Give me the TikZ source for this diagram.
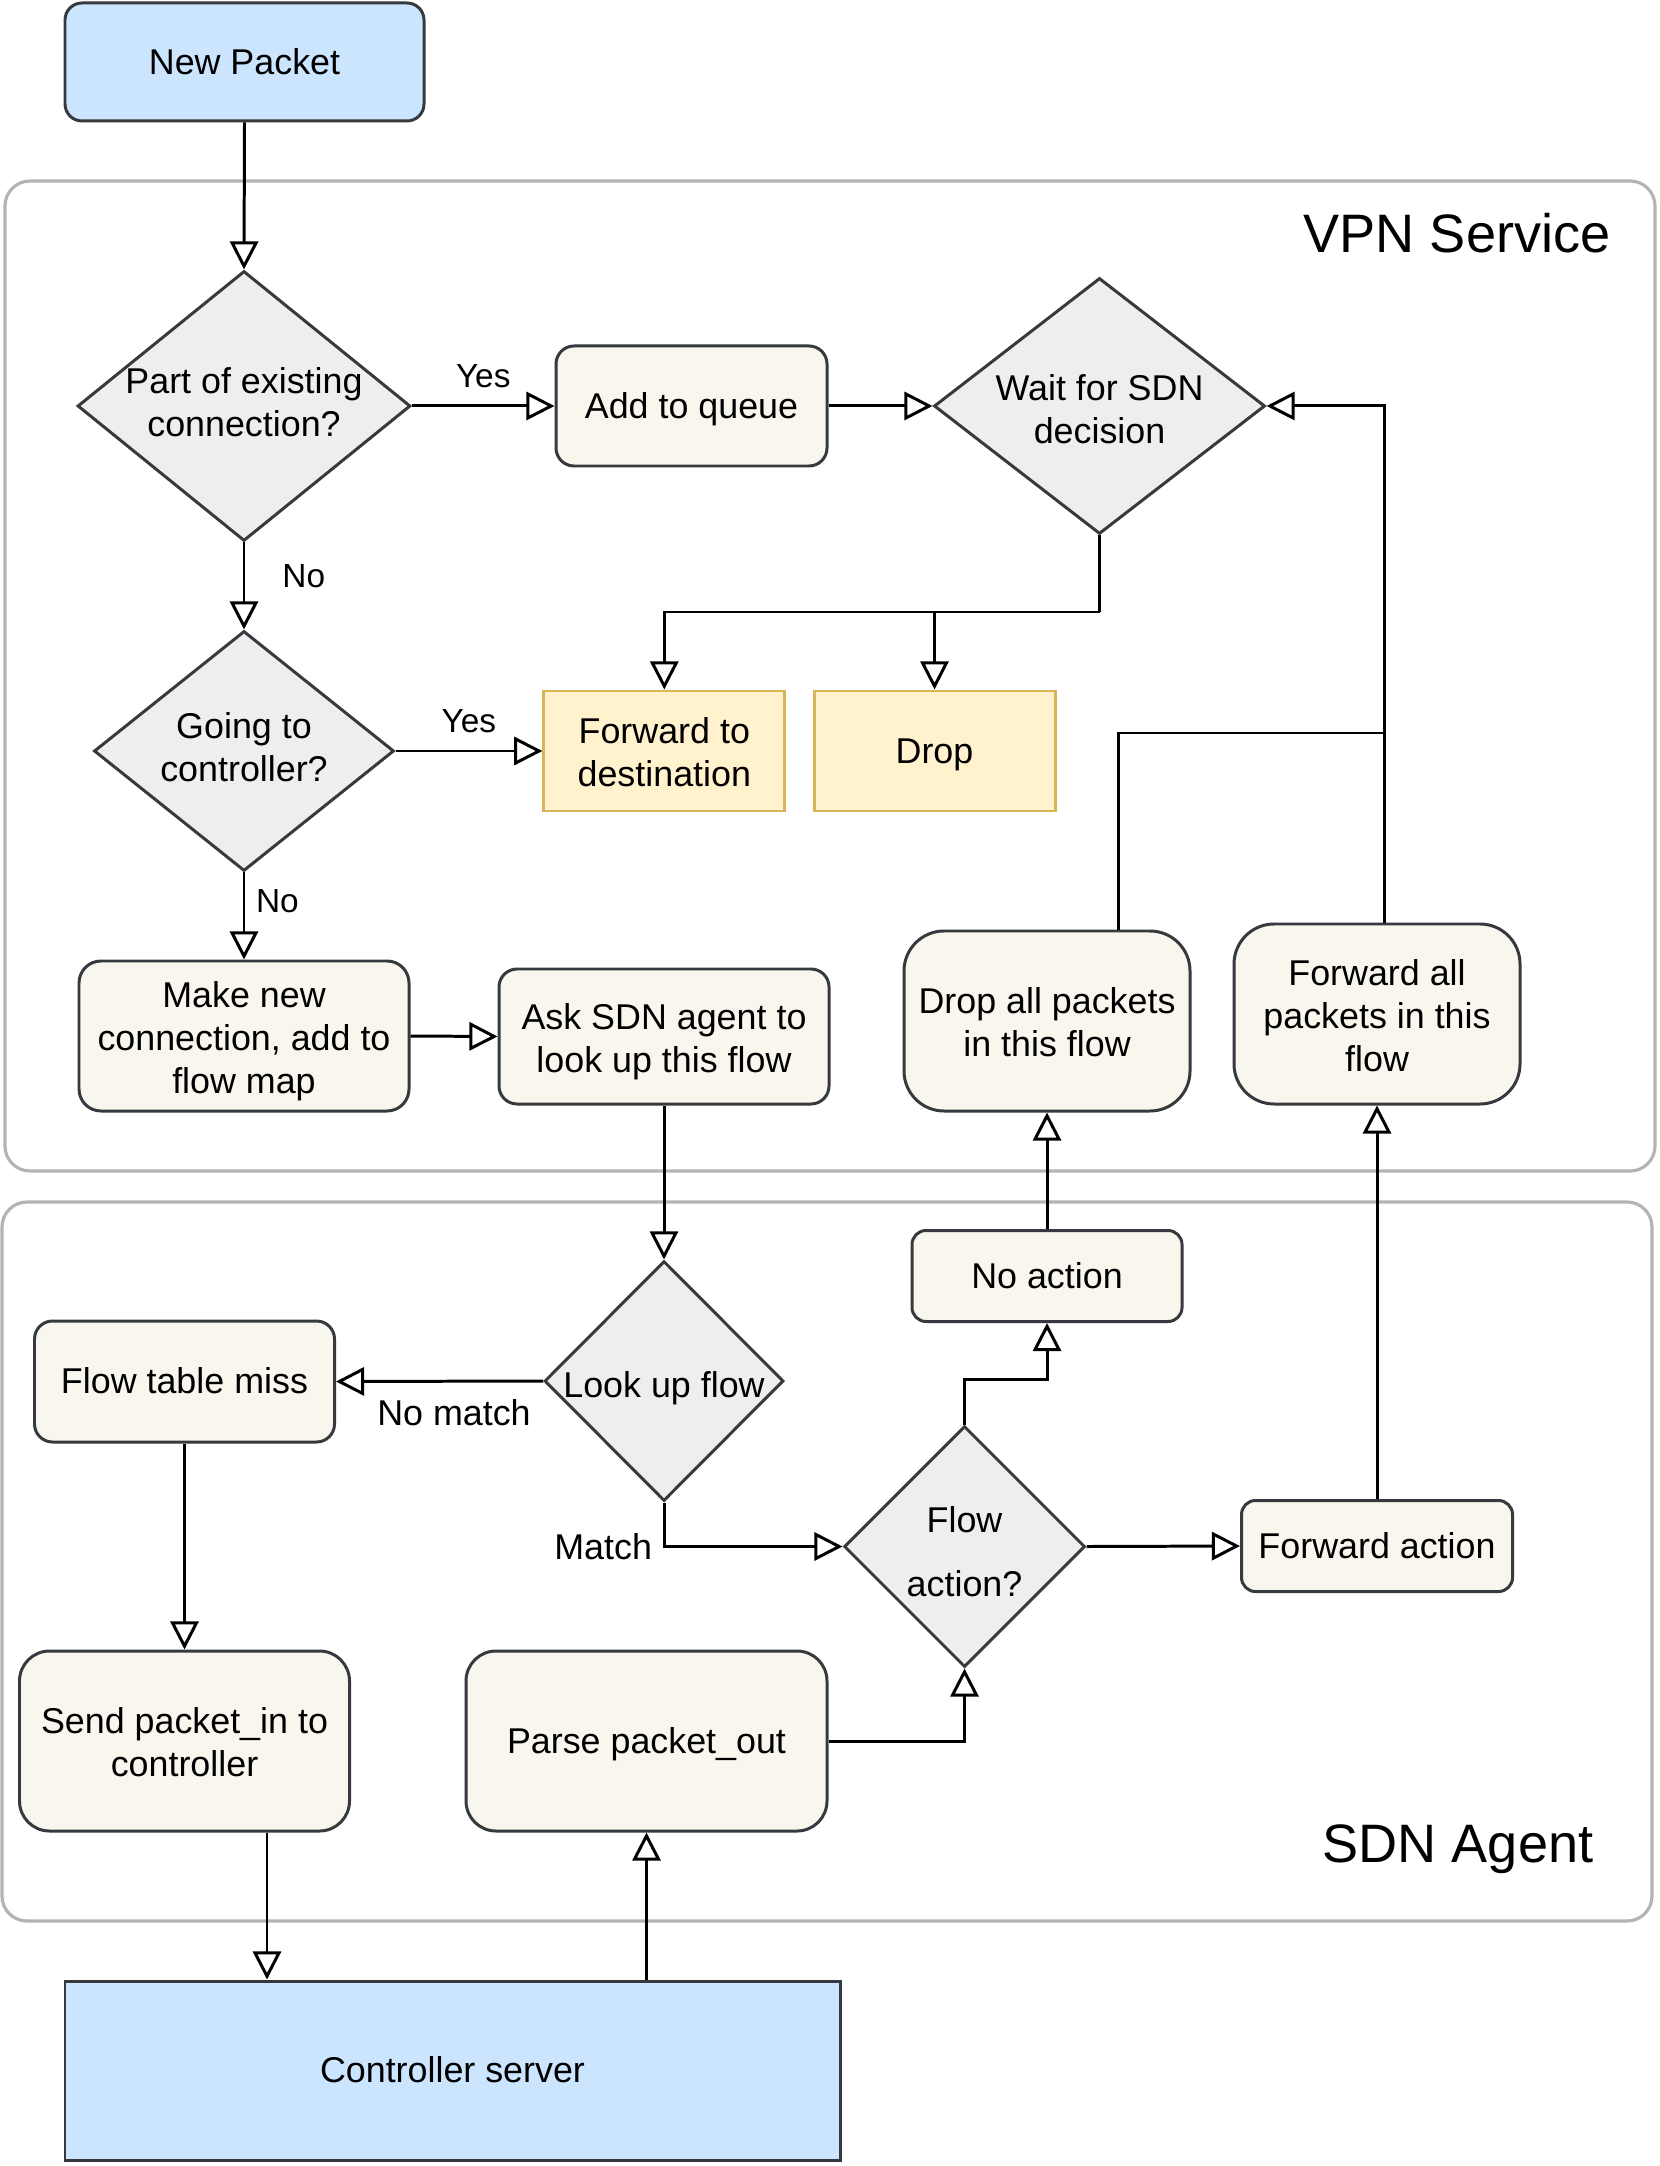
\documentclass[tikz,border=0pt]{standalone}
\usepackage{fontspec}
\setmainfont{Liberation Sans}
\usetikzlibrary{arrows.meta,shapes.geometric,calc}
\definecolor{boxfill}{HTML}{F9F7ED}
\definecolor{boxline}{HTML}{36393D}
\definecolor{decfill}{HTML}{EEEEEE}
\definecolor{bluefill}{HTML}{CCE5FF}
\definecolor{yelfill}{HTML}{FFF2CC}
\definecolor{yelline}{HTML}{D6B656}
\definecolor{grpline}{HTML}{B3B3B3}

\begin{document}
\begin{tikzpicture}[
    >={Triangle[open,length=8pt,width=8pt]},
    txt/.style={font=\fontsize{10.2}{12.2}\selectfont, align=center},
    linebox/.style={execute at begin node={\rule[-2.6pt]{0pt}{#1}},
                    execute at end node={\rule[-2.6pt]{0pt}{12.25pt}}},
    linebox/.default=12.25pt,
    twoline/.style={linebox=25.4pt},
    threeline/.style={linebox=38pt},
    sink/.style={execute at begin node={\rule{0pt}{#1}}},
    lift/.style={execute at end node={\rule[-#1]{0pt}{0pt}}},
    edgelbl/.style={font=\fontsize{9.5}{11.4}\selectfont, inner sep=3pt},
    matchlbl/.style={font=\fontsize{10.2}{12.2}\selectfont, inner sep=3pt},
    proc/.style={txt, draw=boxline, fill=boxfill, line width=0.85pt, rounded corners=0.18cm, inner sep=0pt},
    decision/.style={txt, shape=diamond, draw=boxline, fill=decfill, line width=0.85pt, inner sep=0pt},
    endbox/.style={txt, draw=yelline, fill=yelfill, line width=0.85pt},
    term/.style={txt, linebox, draw=boxline, fill=bluefill, line width=0.85pt},
    group/.style={draw=grpline, line width=0.9pt, rounded corners=0.25cm},
    grptitle/.style={font=\fontsize{15.4}{18}\selectfont},
    conn/.style={->, line width=0.85pt}
  ]
  \useasboundingbox (0,0) rectangle (16.59,-21.66);

  % containers
  \draw[group] (0.05,-1.81) rectangle (16.55,-11.71);
  \draw[group] (0.02,-12.02) rectangle (16.52,-19.21);
  \node[grptitle] (vpntitle) at (14.57,-2.33) {VPN Service};
  \node[grptitle] (sdntitle) at (14.58,-18.49) {SDN Agent};

  % VPN service
  \node[term, rounded corners=0.17cm, minimum width=3.59cm, minimum height=1.18cm] (newpkt) at (2.445,-0.62) {New Packet};
  \node[decision, lift=2.4pt, aspect=1.24, minimum width=3.30cm, minimum height=2.70cm] (part) at (2.44,-4.06) {Part of existing\\connection?};
  \node[proc, linebox, minimum width=2.71cm, minimum height=1.20cm] (queue) at (6.915,-4.06) {Add to queue};
  \node[decision, sink=21.2pt, aspect=1.29, minimum width=3.31cm, minimum height=2.56cm] (wait) at (10.995,-4.06) {Wait for SDN\\decision};
  \node[decision, lift=2.3pt, aspect=1.25, minimum width=3.00cm, minimum height=2.40cm] (going) at (2.44,-7.51) {Going to\\controller?};
  \node[endbox, twoline, minimum width=2.41cm, minimum height=1.20cm] (fwddest) at (6.643,-7.51) {Forward to\\destination};
  \node[endbox, linebox, minimum width=2.41cm, minimum height=1.20cm] (drop) at (9.345,-7.51) {Drop};
  \node[proc, threeline, rounded corners=0.22cm, minimum width=3.30cm, minimum height=1.50cm] (mknew) at (2.44,-10.36) {Make new\\connection, add to\\flow map};
  \node[proc, twoline, minimum width=3.30cm, minimum height=1.35cm] (ask) at (6.64,-10.365) {Ask SDN agent to\\look up this flow};
  \node[proc, twoline, rounded corners=0.4cm, minimum width=2.86cm, minimum height=1.80cm] (dropall) at (10.47,-10.21) {Drop all packets\\in this flow};
  \node[proc, threeline, rounded corners=0.4cm, minimum width=2.86cm, minimum height=1.80cm] (fwdall) at (13.77,-10.14) {Forward all\\packets in this\\flow};

  % SDN agent
  \node[decision, sink=11.4pt, aspect=1, minimum width=2.39cm, minimum height=2.40cm] (lookup) at (6.64,-13.81) {\makebox[0pt]{Look up flow}};
  \node[proc, linebox, minimum width=3.00cm, minimum height=1.21cm] (miss) at (1.845,-13.815) {Flow table miss};
  \node[proc, linebox, rounded corners=0.14cm, minimum width=2.70cm, minimum height=0.91cm] (noact) at (10.47,-12.76) {No action};
  \node[decision, sink=28.4pt, aspect=1, minimum width=2.41cm, minimum height=2.41cm] (flowact) at (9.645,-15.465) {Flow\\[6pt]action?};
  \node[proc, linebox, rounded corners=0.14cm, minimum width=2.71cm, minimum height=0.91cm] (fwdact) at (13.77,-15.46) {Forward action};
  \node[proc, twoline, rounded corners=0.3cm, minimum width=3.30cm, minimum height=1.80cm] (sendin) at (1.845,-17.41) {Send packet\_in to\\controller};
  \node[proc, linebox, rounded corners=0.3cm, minimum width=3.61cm, minimum height=1.80cm] (parse) at (6.465,-17.41) {Parse packet\_out};
  \node[term, minimum width=7.75cm, minimum height=1.79cm] (ctrl) at (4.525,-20.705) {Controller server};

  \coordinate (wsplit) at (10.995,-6.12);
  \coordinate (join) at (13.84,-7.33);
  \coordinate (pin) at ($(sendin.south)+(0.825,0)$);

  % connectors
  \draw[conn] (newpkt.south) -- (part.north);
  \draw[conn] (part.east) -- node[edgelbl, above=1.8pt] {Yes} (queue.west);
  \draw[conn] (part.south) -- node[edgelbl, pos=0.39, right=7.5pt] {No} (going.north);
  \draw[conn] (queue.east) -- (wait.west);
  \draw[line width=0.85pt] (wait.south) -- (wsplit);
  \draw[conn] (wsplit) -| (fwddest.north);
  \draw[conn] (wsplit) -| (drop.north);
  \draw[conn] (going.east) -- node[edgelbl, above=1.8pt] {Yes} (fwddest.west);
  \draw[conn] (going.south) -- node[edgelbl, pos=0.33, right] {No} (mknew.north);
  \draw[conn] (mknew.east) -- (ask.west);
  \draw[conn] (ask.south) -- (lookup.north);
  \draw[conn] (lookup.west) -- node[matchlbl, pos=0.43, below=1.8pt] {No match} (miss.east);
  \draw[conn] (lookup.south) |- node[matchlbl, left] {Match} (flowact.west);
  \draw[conn] (flowact.east) -- (fwdact.west);
  \draw[conn] (flowact.north) -- ++(0,0.45) -| (noact.south);
  \draw[conn] (noact.north) -- (dropall.south);
  \draw[conn] (fwdact.north) -- (fwdall.south);
  \draw[line width=0.85pt] ($(dropall.north)+(0.71,0)$) |- (join);
  \draw[conn] (fwdall.north -| join) -- (join) |- (wait.east);
  \draw[conn] (miss.south) -- (sendin.north);
  \draw[conn] (pin) -- (pin |- ctrl.north);
  \draw[conn] (parse.south |- ctrl.north) -- (parse.south);
  \draw[conn] (parse.east) -| (flowact.south);
\end{tikzpicture}
\end{document}
